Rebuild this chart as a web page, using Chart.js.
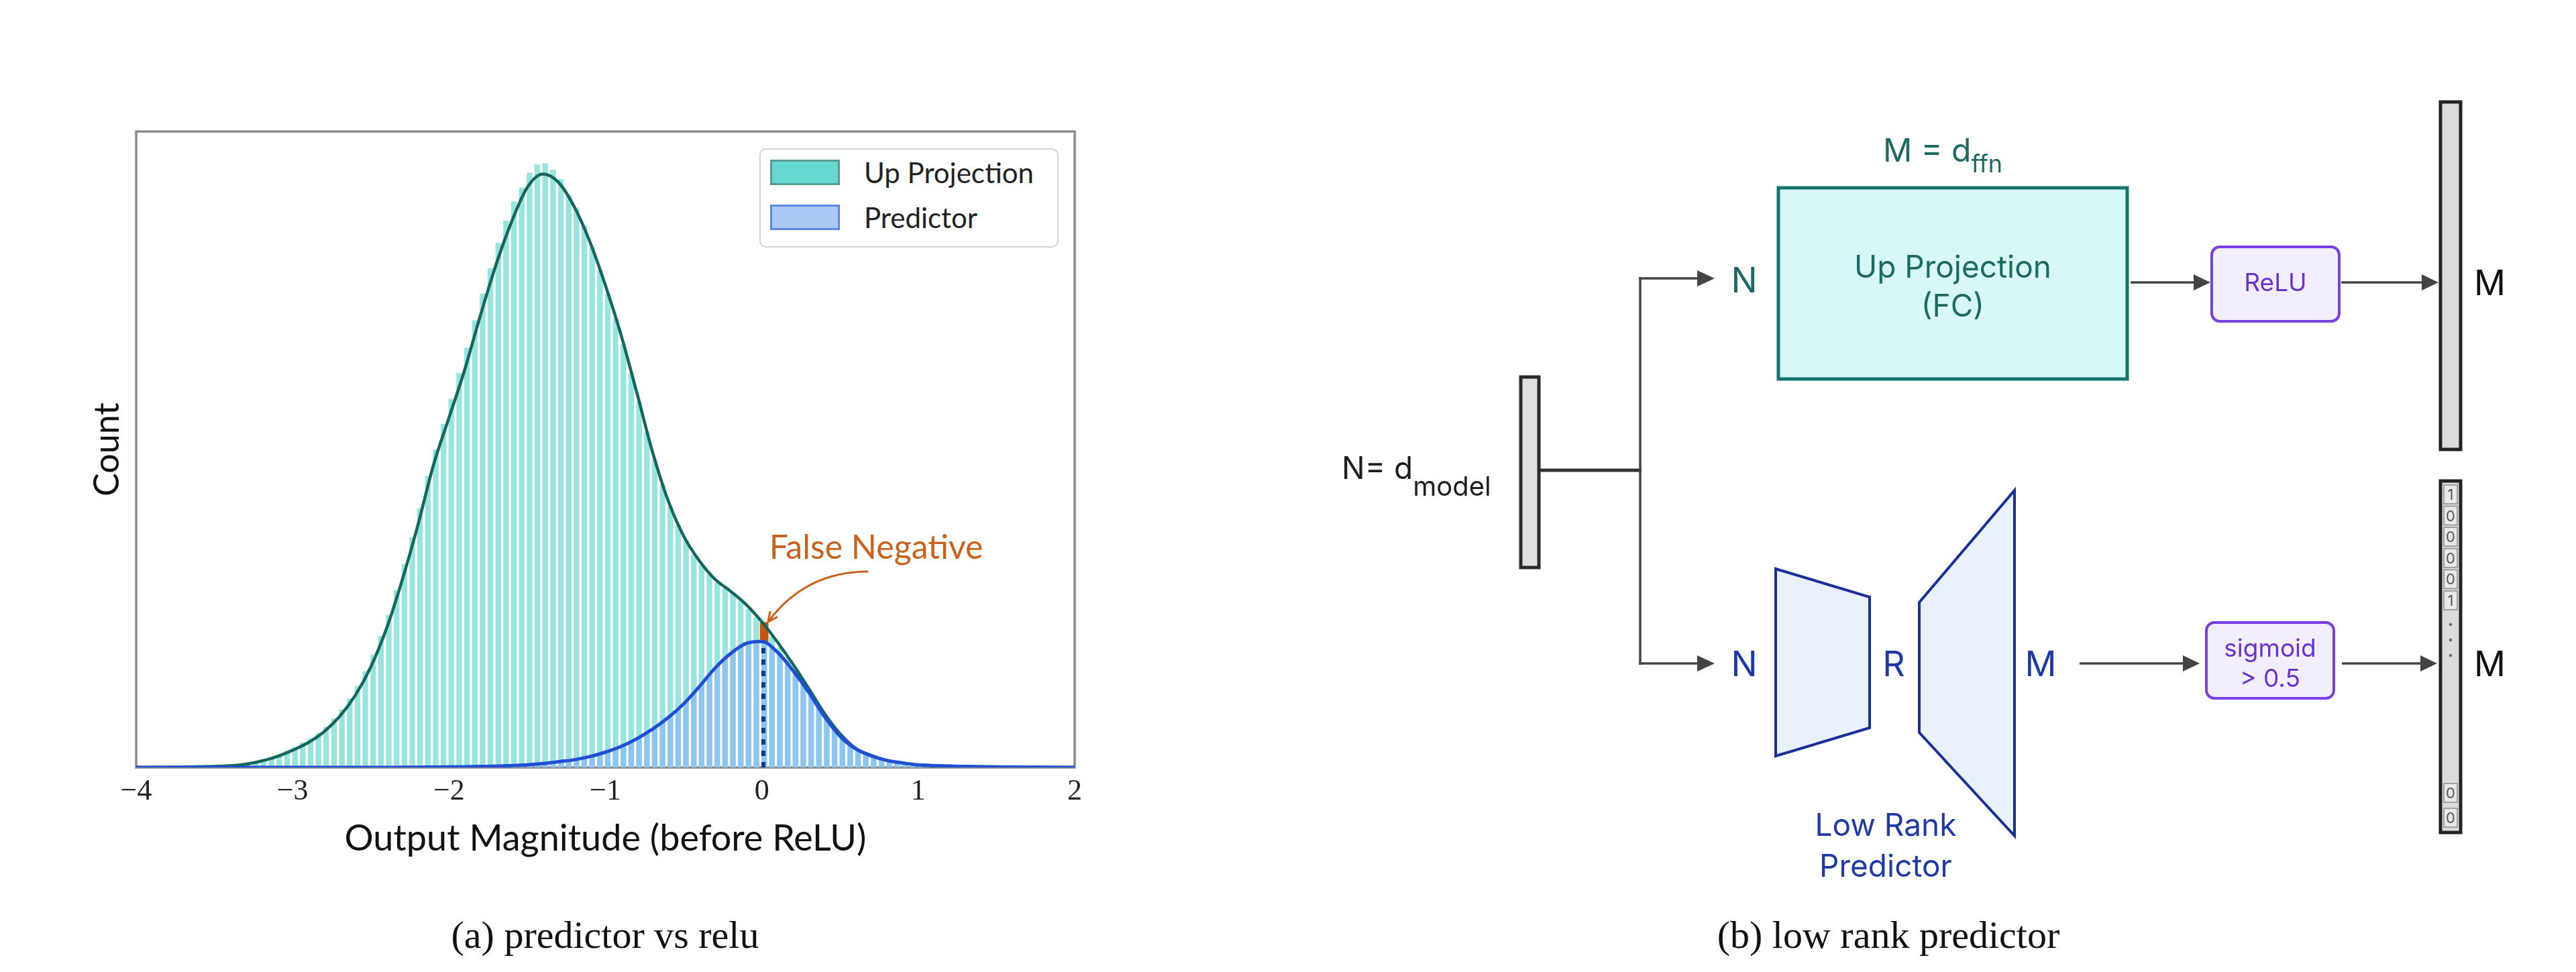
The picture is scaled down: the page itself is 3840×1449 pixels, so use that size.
<!DOCTYPE html>
<html>
<head>
<meta charset="utf-8">
<script src="https://cdn.jsdelivr.net/npm/chart.js@4.4.1/dist/chart.umd.min.js"></script>
<style>
  html, body { margin: 0; padding: 0; background: #ffffff; }
  #page { position: relative; width: 3840px; height: 1449px; overflow: hidden; background: #ffffff; }
  #chartWrap { position: absolute; left: 0; top: 0; width: 1700px; height: 1449px; }
  #legend { position: absolute; left: 1132px; top: 221px; width: 446px; height: 148px; box-sizing: border-box;
            border: 2px solid #d4d4d4; border-radius: 10px; background: #ffffff; }
  .lg-item { position: absolute; left: 0; height: 38px; width: 440px; }
  .lg-patch { position: absolute; left: 14px; top: 0; width: 104px; height: 38px; box-sizing: border-box; border-width: 3.5px; border-style: solid; }
  .lg-text { position: absolute; left: 154px; top: -6px; font-family: Lato, "Open Sans", sans-serif; font-size: 42px; line-height: 50px; color: #222; white-space: nowrap; }
  #diagram { position: absolute; left: 0; top: 0; }
</style>
</head>
<body>
<div id="page">
  <div id="chartWrap"><canvas id="c" width="1700" height="1449"></canvas></div>
  <div id="legend"></div>
  <svg id="diagram" width="3840" height="1449" viewBox="0 0 3840 1449" xmlns="http://www.w3.org/2000/svg">
    <!-- captions -->
    <text x="902" y="1413" text-anchor="middle" font-family="Liberation Serif, Times New Roman, serif" font-size="58" fill="#111">(a) predictor vs relu</text>
    <text x="2815" y="1413" text-anchor="middle" font-family="Liberation Serif, Times New Roman, serif" font-size="58" fill="#111">(b) low rank predictor</text>

    <!-- input vector -->
    <rect x="2267" y="562" width="27" height="284" fill="#dde1e4" stroke="#2a2a2a" stroke-width="5"/>
    <text x="2000" y="714" font-family="Inter, sans-serif" font-size="46" fill="#1e1e1e">N= d<tspan font-size="40" dy="25">model</tspan></text>

    <!-- split lines -->
    <line x1="2296" y1="701" x2="2447" y2="701" stroke="#333" stroke-width="5"/>
    <line x1="2445" y1="413" x2="2445" y2="991" stroke="#444" stroke-width="3.5"/>
    <line x1="2443" y1="415" x2="2532" y2="415" stroke="#444" stroke-width="3.5"/>
    <polygon points="2530,403 2556,415 2530,427" fill="#444"/>
    <line x1="2443" y1="989" x2="2532" y2="989" stroke="#444" stroke-width="3.5"/>
    <polygon points="2530,977 2556,989 2530,1001" fill="#444"/>

    <!-- top branch -->
    <text x="2600" y="436" text-anchor="middle" font-family="Inter, sans-serif" font-size="52" fill="#1d6a62">N</text>
    <text x="2807" y="241" font-family="Inter, sans-serif" font-size="48" fill="#1d6a62">M = d<tspan font-size="36" dy="16">ffn</tspan></text>
    <rect x="2651" y="280" width="520" height="285" fill="#d8f8f5" stroke="#13756b" stroke-width="5"/>
    <text x="2911" y="414" text-anchor="middle" font-family="Inter, sans-serif" font-size="46" fill="#1c6a62">Up Projection</text>
    <text x="2911" y="472" text-anchor="middle" font-family="Inter, sans-serif" font-size="46" fill="#1c6a62">(FC)</text>
    <line x1="3176" y1="421" x2="3272" y2="421" stroke="#444" stroke-width="3.5"/>
    <polygon points="3270,409 3295,421 3270,433" fill="#444"/>
    <rect x="3297" y="368" width="190" height="111" rx="12" ry="12" fill="#f2eefc" stroke="#7a3fe0" stroke-width="4"/>
    <text x="3392" y="434" text-anchor="middle" font-family="Inter, sans-serif" font-size="37" fill="#6a33cc">ReLU</text>
    <line x1="3490" y1="421" x2="3612" y2="421" stroke="#444" stroke-width="3.5"/>
    <polygon points="3610,409 3635,421 3610,433" fill="#444"/>
    <rect x="3638" y="152" width="30" height="518" fill="#d9dcdf" stroke="#222" stroke-width="5"/>
    <text x="3688" y="440" font-family="Inter, sans-serif" font-size="52" fill="#111">M</text>

    <!-- bottom branch -->
    <text x="2600" y="1008" text-anchor="middle" font-family="Inter, sans-serif" font-size="52" fill="#1f3aa6">N</text>
    <polygon points="2647,848 2787,890 2787,1085 2647,1127" fill="#e9f1fd" stroke="#1a2f9a" stroke-width="4" stroke-linejoin="miter"/>
    <text x="2823" y="1008" text-anchor="middle" font-family="Inter, sans-serif" font-size="52" fill="#1f3aa6">R</text>
    <polygon points="2861,898 3003,731 3003,1246 2861,1092" fill="#e9f1fd" stroke="#1a2f9a" stroke-width="4" stroke-linejoin="miter"/>
    <text x="3042" y="1008" text-anchor="middle" font-family="Inter, sans-serif" font-size="52" fill="#1f3aa6">M</text>
    <text x="2811" y="1246" text-anchor="middle" font-family="Inter, sans-serif" font-size="46" fill="#1f3aa6">Low Rank</text>
    <text x="2811" y="1307" text-anchor="middle" font-family="Inter, sans-serif" font-size="46" fill="#1f3aa6">Predictor</text>
    <line x1="3100" y1="989" x2="3256" y2="989" stroke="#444" stroke-width="3.5"/>
    <polygon points="3254,977 3279,989 3254,1001" fill="#444"/>
    <rect x="3289" y="928" width="190" height="113" rx="12" ry="12" fill="#f2eefc" stroke="#7a3fe0" stroke-width="4"/>
    <text x="3384" y="979" text-anchor="middle" font-family="Inter, sans-serif" font-size="37" fill="#6a33cc">sigmoid</text>
    <text x="3384" y="1024" text-anchor="middle" font-family="Inter, sans-serif" font-size="37" fill="#6a33cc">&gt; 0.5</text>
    <line x1="3491" y1="989" x2="3610" y2="989" stroke="#444" stroke-width="3.5"/>
    <polygon points="3608,977 3633,989 3608,1001" fill="#444"/>
    <rect x="3638" y="717" width="30" height="524" fill="#d9dcdf" stroke="#222" stroke-width="5"/>
    <g id="maskCells"></g>
    <text x="3688" y="1008" font-family="Inter, sans-serif" font-size="52" fill="#111">M</text>
  </svg>
</div>

<script>
// ---------------- data ----------------
const seriesNames = ['Up Projection', 'Predictor'];
const xTicks = [-4, -3, -2, -1, 0, 1, 2];

// histogram bins (width 0.05), first bin centre
const binStart = -3.535;
const binWidth = 0.05;

const upHist = [
  1, 2, 2, 3, 4, 6, 8, 11, 15, 20,
  26, 32, 39, 46, 54, 64, 77, 91, 108, 128,
  151, 177, 207, 240, 279, 320, 362, 408, 458, 500,
  540, 580, 620, 660, 703, 745, 785, 825, 860, 890,
  912, 935, 948, 950, 940, 925, 900, 880, 852, 818,
  782, 745, 706, 665, 620, 574, 528, 484, 445, 410,
  381, 357, 335, 318, 304, 290, 282, 273, 262, 249,
  236, 222, 206, 189, 172, 154, 136, 117, 97, 78,
  61, 47, 35, 27, 21, 17, 13, 10, 8, 6,
  5, 4, 3, 3, 2, 2, 2, 1, 1, 1,
  1
];

const predHist = [
  0, 0, 0, 0, 0, 0, 0, 0, 0, 0,
  0, 0, 0, 0, 0, 0, 0, 0, 0, 0,
  0, 0, 0, 0, 0, 0, 0, 0, 0, 0,
  1, 1, 1, 1, 1, 2, 2, 2, 3, 3,
  4, 4, 5, 6, 8, 9, 11, 12, 14, 17,
  21, 25, 29, 34, 40, 46, 53, 62, 70, 80,
  91, 103, 117, 131, 146, 160, 172, 182, 190, 196,
  199, 196, 188, 176, 162, 146, 130, 112, 94, 76,
  60, 46, 34, 26, 20, 16, 12, 9, 7, 6,
  5, 4, 3, 3, 2, 2, 2, 1, 1, 1,
  1
];

// density curves, sampled every 0.1 from -4 to 2
const kdeStart = -4;
const kdeStep = 0.1;
const upKde = [
  0, 0.1, 0.3, 0.6, 1, 1.6, 2.6, 5, 10, 17,
  27, 39, 56, 80, 113, 158, 218, 294, 380, 475,
  550, 625, 710, 790, 858, 912, 933, 920, 882, 827,
  758, 680, 590, 497, 420, 364, 325, 296, 277, 256,
  229, 197, 162, 124, 85, 53, 30, 19, 11, 7,
  4, 3, 2, 1.5, 1, 0.7, 0.5, 0.3, 0.2, 0.1,
  0
];
const predKde = [
  0, 0, 0, 0, 0, 0, 0, 0, 0, 0,
  0, 0, 0, 0, 0, 0, 0, 0.2, 0.3, 0.5,
  0.7, 1, 1.5, 2, 3, 4, 6, 9, 12, 17,
  24, 33, 45, 60, 78, 100, 127, 156, 179, 195,
  198, 181, 152, 118, 80, 49, 29, 18, 11, 7,
  4, 3, 2, 1.5, 1, 0.7, 0.5, 0.3, 0.2, 0.1,
  0
];

// false-negative slice and threshold marker
const fnX = 0.015, fnLow = 196, fnHigh = 228;
const thrX = 0.01, thrTop = 194;
const fnLabel = 'False Negative';
const fnTextPos = { x: 0.047, y: 328 };
const fnArrow = { from: { x: 0.68, y: 308 }, ctrl: { x: 0.28, y: 308 }, to: { x: 0.04, y: 229 } };

// bottom output mask vector
const maskTop = ['1', '0', '0', '0', '0', '1'];
const maskBottom = ['0', '0'];

// ---------------- build ----------------
const binCenters = upHist.map((_, i) => +(binStart + i * binWidth).toFixed(3));
const kdeX = upKde.map((_, i) => +(kdeStart + i * kdeStep).toFixed(2));
const pts = (xs, ys) => xs.map((x, i) => ({ x: x, y: ys[i] }));

const frameAndNotes = {
  id: 'frameAndNotes',
  beforeDatasetsDraw(chart) {
    const { ctx, chartArea: a } = chart;
    ctx.save();
    ctx.strokeStyle = '#8a8a8a';
    ctx.lineWidth = 3.5;
    ctx.strokeRect(a.left, a.top, a.right - a.left, a.bottom - a.top);
    ctx.restore();
  },
  afterDraw(chart) {
    const { ctx } = chart;
    const xs = chart.scales.x, ys = chart.scales.y;
    const P = p => ({ x: xs.getPixelForValue(p.x), y: ys.getPixelForValue(p.y) });
    ctx.save();
    ctx.fillStyle = '#c8621c';
    ctx.font = '50px Lato, "Open Sans", sans-serif';
    ctx.textBaseline = 'alphabetic';
    const tp = P(fnTextPos);
    ctx.fillText(fnLabel, tp.x, tp.y);
    const s = P(fnArrow.from), c = P(fnArrow.ctrl), e = P(fnArrow.to);
    ctx.strokeStyle = '#c8621c';
    ctx.lineWidth = 3;
    ctx.beginPath();
    ctx.moveTo(s.x, s.y);
    ctx.quadraticCurveTo(c.x, c.y, e.x, e.y);
    ctx.stroke();
    const ang = Math.atan2(e.y - c.y, e.x - c.x);
    const L = 16, spread = 0.45;
    ctx.beginPath();
    ctx.moveTo(e.x - L * Math.cos(ang - spread), e.y - L * Math.sin(ang - spread));
    ctx.lineTo(e.x, e.y);
    ctx.lineTo(e.x - L * Math.cos(ang + spread), e.y - L * Math.sin(ang + spread));
    ctx.stroke();
    ctx.restore();
  }
};

const chart = new Chart(document.getElementById('c').getContext('2d'), {
  type: 'bar',
  data: {
    datasets: [
      { type: 'bar', label: seriesNames[0], data: pts(binCenters, upHist),
        backgroundColor: 'rgb(152,228,223)', barPercentage: 0.72, categoryPercentage: 1,
        grouped: false, order: 6, legendFill: '#66d8cf', legendEdge: '#5b9c96' },
      { type: 'bar', label: seriesNames[1], data: pts(binCenters, predHist),
        backgroundColor: 'rgba(140,190,245,0.78)', barPercentage: 0.72, categoryPercentage: 1,
        grouped: false, order: 5, legendFill: '#abc8f6', legendEdge: '#5b87e6' },
      { type: 'bar', label: fnLabel, data: [{ x: fnX, y: [fnLow, fnHigh] }],
        backgroundColor: '#c4570f', barThickness: 12, grouped: false, order: 4 },
      { type: 'line', label: seriesNames[0] + ' density', data: pts(kdeX, upKde),
        borderColor: '#13675f', borderWidth: 4.5, pointRadius: 0, fill: false,
        cubicInterpolationMode: 'monotone', order: 3 },
      { type: 'line', label: seriesNames[1] + ' density', data: pts(kdeX, predKde),
        borderColor: '#1f4fd6', borderWidth: 5, pointRadius: 0, fill: false,
        cubicInterpolationMode: 'monotone', order: 2 },
      { type: 'line', label: 'threshold', data: [{ x: thrX, y: 0 }, { x: thrX, y: thrTop }],
        borderColor: '#0f3a8a', borderWidth: 6, borderDash: [8, 9], pointRadius: 0, fill: false, order: 1 }
    ]
  },
  options: {
    responsive: false,
    animation: false,
    devicePixelRatio: 1,
    layout: { padding: { left: 0, top: 196, right: 98, bottom: 145 } },
    plugins: { legend: { display: false }, tooltip: { enabled: false } },
    scales: {
      x: {
        type: 'linear', min: -4, max: 2, offset: false,
        grid: { display: false, drawTicks: false },
        border: { display: false },
        afterBuildTicks: s => { s.ticks = xTicks.map(v => ({ value: v })); },
        ticks: {
          padding: 10, color: '#222',
          font: { family: 'Liberation Serif, serif', size: 44 },
          callback: v => (v < 0 ? '\u2212' + Math.abs(v) : String(v))
        },
        title: { display: true, text: 'Output Magnitude (before ReLU)', color: '#111',
                 font: { family: 'Lato, "Open Sans", sans-serif', size: 54 }, padding: { top: 0, bottom: 21 } },
        afterFit: s => { s.height = 160; }
      },
      y: {
        min: 0, max: 1000,
        grid: { display: false, drawTicks: false },
        border: { display: false },
        ticks: { display: false },
        title: { display: true, text: 'Count', color: '#111',
                 font: { family: 'Lato, "Open Sans", sans-serif', size: 52 }, padding: { top: 129, bottom: 0 } },
        afterFit: s => { s.width = 203; }
      }
    }
  },
  plugins: [frameAndNotes]
});

// legend (HTML) built from the chart's histogram datasets
const legendEl = document.getElementById('legend');
chart.data.datasets.slice(0, 2).forEach((ds, i) => {
  const item = document.createElement('div');
  item.className = 'lg-item';
  item.style.top = (15 + i * 67) + 'px';
  const patch = document.createElement('div');
  patch.className = 'lg-patch';
  patch.style.background = ds.legendFill;
  patch.style.borderColor = ds.legendEdge;
  const txt = document.createElement('div');
  txt.className = 'lg-text';
  txt.textContent = ds.label;
  item.appendChild(patch);
  item.appendChild(txt);
  legendEl.appendChild(item);
});

// mask vector cells in the diagram
const NS = 'http://www.w3.org/2000/svg';
const g = document.getElementById('maskCells');
function cell(cy, d) {
  const r = document.createElementNS(NS, 'rect');
  r.setAttribute('x', 3643); r.setAttribute('y', cy - 14);
  r.setAttribute('width', 20); r.setAttribute('height', 28);
  r.setAttribute('fill', '#e6e8ea'); r.setAttribute('stroke', '#8d8d8d'); r.setAttribute('stroke-width', 1.5);
  g.appendChild(r);
  const t = document.createElementNS(NS, 'text');
  t.setAttribute('x', 3653); t.setAttribute('y', cy + 8);
  t.setAttribute('text-anchor', 'middle');
  t.setAttribute('font-family', 'Inter, sans-serif');
  t.setAttribute('font-size', 22); t.setAttribute('fill', '#555');
  t.textContent = d;
  g.appendChild(t);
}
maskTop.forEach((d, i) => cell(737 + i * 31.6, d));
maskBottom.forEach((d, i) => cell(1182 + i * 37, d));
[931, 954, 977].forEach(cy => {
  const c = document.createElementNS(NS, 'circle');
  c.setAttribute('cx', 3653); c.setAttribute('cy', cy); c.setAttribute('r', 2.2);
  c.setAttribute('fill', '#666');
  g.appendChild(c);
});
</script>
</body>
</html>
